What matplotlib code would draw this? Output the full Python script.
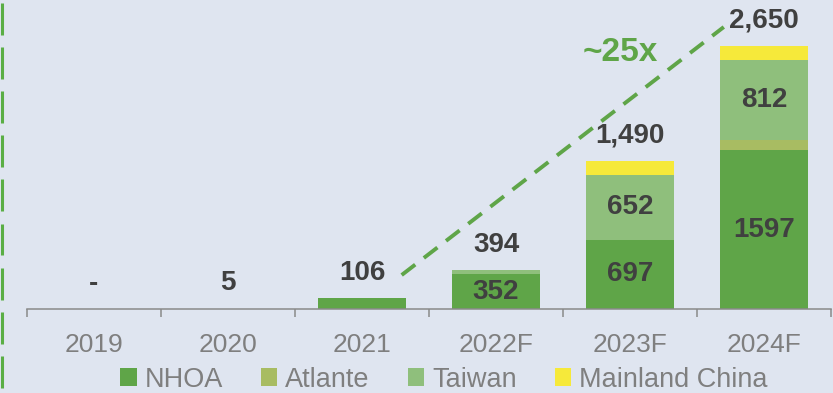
import matplotlib
matplotlib.use("Agg")
import matplotlib.pyplot as plt
from matplotlib.lines import Line2D
from matplotlib.patches import Patch
import numpy as np

plt.rcParams['font.family'] = ['Liberation Sans', 'DejaVu Sans']

# Data
years = ["2019", "2020", "2021", "2022F", "2023F", "2024F"]
nhoa = [0, 5, 106, 352, 697, 1597]
atlante = [0, 0, 0, 0, 0, 100]
taiwan = [0, 0, 0, 42, 652, 812]
mainland_china = [0, 0, 0, 0, 141, 141]
total_labels = ["-", "5", "106", "394", "1,490", "2,650"]
series_names = ["NHOA", "Atlante", "Taiwan", "Mainland China"]
growth_label = "~25x"

# Styles
BG = "#dfe5f0"
C_NHOA = "#5fa548"
C_ATL = "#a8bc62"
C_TW = "#8fbf7c"
C_CN = "#f6e93a"
C_VAL = "#404040"
C_TICK = "#7f7f7f"
C_AXIS = "#8a8a8a"
colors = [C_NHOA, C_ATL, C_TW, C_CN]

W, H = 833, 393
fig = plt.figure(figsize=(W / 100, H / 100), dpi=100)
fig.patch.set_facecolor(BG)

ax = fig.add_axes([27 / W, 84 / H, 804 / W, 309 / H])
ax.set_facecolor(BG)

x = np.arange(len(years))
stack = [nhoa, atlante, taiwan, mainland_china]
bottom = np.zeros(len(years))
for vals, col in zip(stack, colors):
    ax.bar(x, vals, width=0.66, bottom=bottom, color=col, linewidth=0, zorder=2)
    bottom += np.array(vals, dtype=float)

totals = bottom

ax.set_xlim(-0.5, len(years) - 0.5)
ax.set_ylim(0, 3112)

# Totals above each stack
for xi, t, lab in zip(x, totals, total_labels):
    ax.annotate(lab, (xi, t), xytext=(0, 13), textcoords="offset points",
                ha="center", va="baseline", fontsize=20, fontweight="bold",
                color=C_VAL, zorder=4)

# Values inside the larger segments
seg_bottom = np.zeros(len(years))
for vals in stack:
    for xi, v, b in zip(x, vals, seg_bottom):
        if v >= 300:
            ax.text(xi, b + v / 2, f"{v}", ha="center", va="center",
                    fontsize=20, fontweight="bold", color=C_VAL, zorder=4)
    seg_bottom += np.array(vals, dtype=float)

# Growth trend line
ax.plot([2.296, 4.70], [342, 2840], color=C_NHOA, linewidth=2.8,
        linestyle=(0, (4.4, 2.8)), dash_capstyle="butt", zorder=3)
ax.text(3.93, 2583, growth_label, ha="center", va="center", fontsize=24,
        fontweight="bold", color=C_NHOA, zorder=4)

# Axis styling
for s in ["top", "right", "left"]:
    ax.spines[s].set_visible(False)
ax.spines["bottom"].set_color(C_AXIS)
ax.spines["bottom"].set_linewidth(1.1)
ax.set_yticks([])
ax.set_xticks(np.arange(-0.5, len(years) + 0.5, 1.0))
ax.set_xticklabels([])
ax.set_xticks(x, minor=True)
ax.set_xticklabels(years, minor=True)
ax.tick_params(axis="x", which="major", direction="out", length=6,
               width=1.1, color=C_AXIS)
ax.tick_params(axis="x", which="minor", length=0, pad=17,
               labelsize=19, labelcolor=C_TICK)

# Legend
handles = [Patch(facecolor=c, edgecolor="none") for c in colors]
fig.legend(handles, series_names, loc="center", ncol=4,
           bbox_to_anchor=(0.533, 0.034), frameon=False, fontsize=19.5,
           labelcolor=C_TICK, handlelength=0.6, handleheight=0.6,
           handletextpad=0.3, columnspacing=1.4, borderpad=0,
           borderaxespad=0)

# Green dashed rule along the left edge, drawn as solid segments
dash_px, period_px = 32.0, 44.1
for top in np.arange(3.0, H, period_px):
    y0 = 1 - top / H
    y1 = 1 - min(top + dash_px, H) / H
    fig.add_artist(Line2D([1.5 / W, 1.5 / W], [y0, y1],
                          transform=fig.transFigure, color="#5aae45",
                          linewidth=2.2, solid_capstyle="butt"))

fig.savefig("out.png", dpi=100, facecolor=BG)
